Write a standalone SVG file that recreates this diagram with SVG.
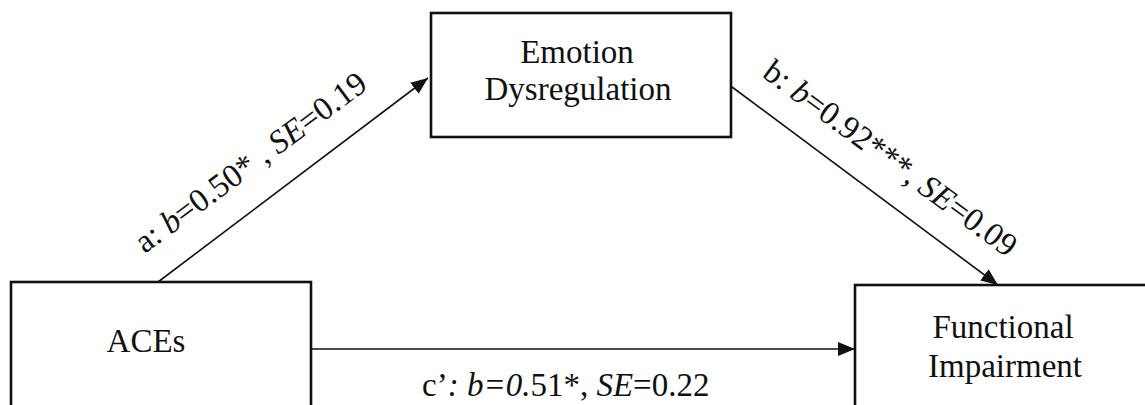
<svg xmlns="http://www.w3.org/2000/svg" width="1145" height="405" viewBox="0 0 1145 405">
<style>
.box{fill:#fff;stroke:#111;stroke-width:2.6}
.lbl{font-family:"Liberation Serif","Times New Roman",serif;font-size:33px;fill:#111}
.it{font-style:italic}
.edge{stroke:#111;stroke-width:1.6;fill:none}
</style>
<defs>
<marker id="ah" markerUnits="userSpaceOnUse" markerWidth="18" markerHeight="15" refX="17" refY="7" orient="auto">
<path d="M0,0 L17,7 L0,14 z" fill="#111"/>
</marker>
</defs>
<rect width="1145" height="405" fill="#fff"/>
<g id="connectors">
<line class="edge" x1="158" y1="282" x2="428" y2="78" marker-end="url(#ah)"/>
<line class="edge" x1="732" y1="87" x2="998" y2="285" marker-end="url(#ah)"/>
<line class="edge" x1="311" y1="349" x2="855" y2="349" marker-end="url(#ah)"/>
<text class="lbl" transform="translate(257,171) rotate(-36.5)" text-anchor="middle">a: <tspan class="it">b</tspan>=0.50* , <tspan class="it">SE</tspan>=0.19</text>
<text class="lbl" transform="translate(884,167) rotate(36.5)" text-anchor="middle">b: <tspan class="it">b</tspan>=0.92***, <tspan class="it">SE</tspan>=0.09</text>
<text class="lbl" x="422" y="396">c’<tspan class="it">: b=0.</tspan>51*, <tspan class="it">SE</tspan>=0.22</text>
</g>
<g id="node-aces">
<rect class="box" x="11" y="282" width="300" height="140"/>
<text class="lbl" x="146" y="352" text-anchor="middle">ACEs</text>
</g>
<g id="node-emotion">
<rect class="box" x="431" y="13" width="300" height="124"/>
<text class="lbl" x="577" y="63" text-anchor="middle">Emotion</text>
<text class="lbl" x="578" y="100" text-anchor="middle">Dysregulation</text>
</g>
<g id="node-functional">
<rect class="box" x="855" y="285" width="310" height="140"/>
<text class="lbl" x="1003" y="338" text-anchor="middle">Functional</text>
<text class="lbl" x="1005" y="377" text-anchor="middle">Impairment</text>
</g>
</svg>
